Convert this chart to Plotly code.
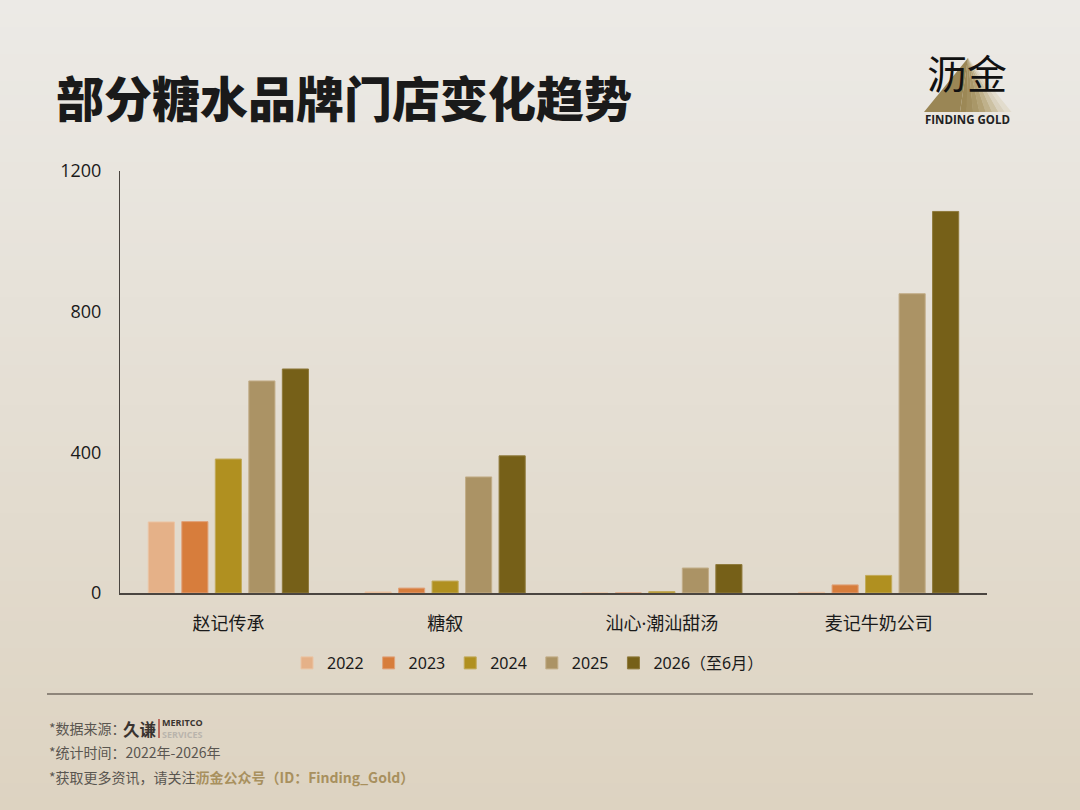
import plotly.graph_objects as go

# data
brands = ['赵记传承', '糖叙', '汕心·潮汕甜汤', '麦记牛奶公司']
years = ['2022', '2023', '2024', '2025', '2026（至6月）']
stores = {
    '2022': [202, 3, 0, 2],
    '2023': [203, 14, 0, 23],
    '2024': [381, 34, 4, 50],
    '2025': [603, 330, 71, 851],
    '2026（至6月）': [637, 390, 81, 1085],
}
y_ticks = [0, 400, 800, 1200]

colors = ['#E5B188', '#D77D3C', '#B09020', '#AB9365', '#766018']
edges = ['#EBC4A4', '#E0A27A', '#C2AA5A', '#C2AD88', '#8F7A3C']

fig = go.Figure()
for yr, c, e in zip(years, colors, edges):
    fig.add_trace(go.Bar(x=brands, y=stores[yr], name=yr,
                         marker=dict(color=c, line=dict(color=e, width=1))))

W, H = 1080, 810
L, R, T, B = 120, 987, 171, 593

def px_x(p):
    return (p - L) / (R - L)

def px_y(p):
    return (B - p) / (B - T)

# background gradient, light at the top to beige at the bottom
top = (236, 234, 230)
bot = (221, 211, 193)
n = 60
shapes = []
for i in range(n):
    t = i / (n - 1)
    col = tuple(round(top[k] + (bot[k] - top[k]) * t) for k in range(3))
    shapes.append(dict(type='rect', xref='paper', yref='paper', layer='below',
                       x0=px_x(0), x1=px_x(W),
                       y0=px_y(H * (i + 1) / n + 1), y1=px_y(H * i / n),
                       line=dict(width=0), fillcolor='rgb(%d,%d,%d)' % col))

# separator line above the footer
shapes.append(dict(type='line', xref='paper', yref='paper',
                   x0=px_x(47), x1=px_x(1033), y0=px_y(694), y1=px_y(694),
                   line=dict(color='#8E857A', width=2)))

# logo triangle, gold on the left fading to pale on the right
def tri(pts, color):
    d = 'M ' + ' L '.join('%f,%f' % (px_x(a), px_y(b)) for a, b in pts) + ' Z'
    return dict(type='path', xref='paper', yref='paper', path=d, layer='below',
                fillcolor=color, line=dict(width=0))

apex = (968, 58)
base_l, base_r = 924, 1011
steps = ['#9C8856', '#A28F5F', '#A99768', '#B3A276', '#BFB18B', '#CCC1A3', '#D9D1BE', '#E2DCCD']
seg = (base_r - 960) / len(steps)
shapes.append(tri([apex, (base_l, 112), (960, 112)], '#9A8655'))
for j, c in enumerate(steps):
    shapes.append(tri([apex, (960 + j * seg, 112), (960 + (j + 1) * seg + 0.5, 112)], c))

# red bar in the data-source logo
shapes.append(dict(type='line', xref='paper', yref='paper',
                   x0=px_x(159), x1=px_x(159), y0=px_y(719), y1=px_y(738),
                   line=dict(color='#B0473A', width=1.5)))

ann = []

def text(x, y, s, size, color='#222', anchor='left', family='Noto Sans CJK SC', weight=None):
    f = dict(size=size, color=color, family=family)
    if weight:
        f['weight'] = weight
    ann.append(dict(x=px_x(x), y=px_y(y), xref='paper', yref='paper', text=s,
                    showarrow=False, xanchor=anchor, yanchor='middle', font=f,
                    borderpad=0))

text(55, 96, '部分糖水品牌门店变化趋势', 48, '#1A1A1A', weight=900)
text(967, 72, '沥金', 40, '#111', 'center')
text(967, 120, '<b>FINDING GOLD</b>', 11.5, '#222', 'center', 'Open Sans')

text(48, 728, '*数据来源：', 14, '#5A5650')
text(122, 729, '<b>久谦</b>', 16.5, '#3A3430')
text(161, 728, '<b>MERITCO</b><br><b><span style="color:#B9B4AC">SERVICES</span></b>',
     9, '#3A3430', 'left', 'Open Sans')
text(48, 752, '*统计时间：2022年-2026年', 14, '#5A5650')
text(48, 777, '*获取更多资讯，请关注<span style="color:#A8905E"><b>沥金公众号（ID：Finding_Gold）</b></span>',
     14, '#5A5650')

fig.update_layout(
    width=W, height=H,
    margin=dict(l=L, r=W - R, t=T, b=H - B, pad=0),
    paper_bgcolor='#E4DDD1', plot_bgcolor='rgba(0,0,0,0)',
    barmode='group', bargap=0.227, bargroupgap=0.22,
    font=dict(family='Noto Sans, Noto Sans CJK SC', size=17, color='#1A1A1A'),
    showlegend=True,
    legend=dict(orientation='h', x=px_x(528), y=px_y(663), xanchor='center', yanchor='middle',
                font=dict(size=16), bgcolor='rgba(0,0,0,0)', itemwidth=30,
                traceorder='normal'),
    shapes=shapes,
    annotations=ann,
)
fig.update_xaxes(showline=True, linecolor='#4A4540', linewidth=1.5, ticks='',
                 showgrid=False, ticklabelstandoff=14,
                 tickfont=dict(size=18, family='Noto Sans, Noto Sans CJK SC'))
fig.update_yaxes(range=[0, 1200], tickvals=y_ticks, showgrid=False, zeroline=False,
                 showline=True, linecolor='#4A4540', linewidth=1.2, ticks='',
                 ticklabelstandoff=14, tickfont=dict(size=18, family='Open Sans'))

fig.write_html('out.html', config={'displayModeBar': False},
               post_script="document.body.style.margin='0';")
